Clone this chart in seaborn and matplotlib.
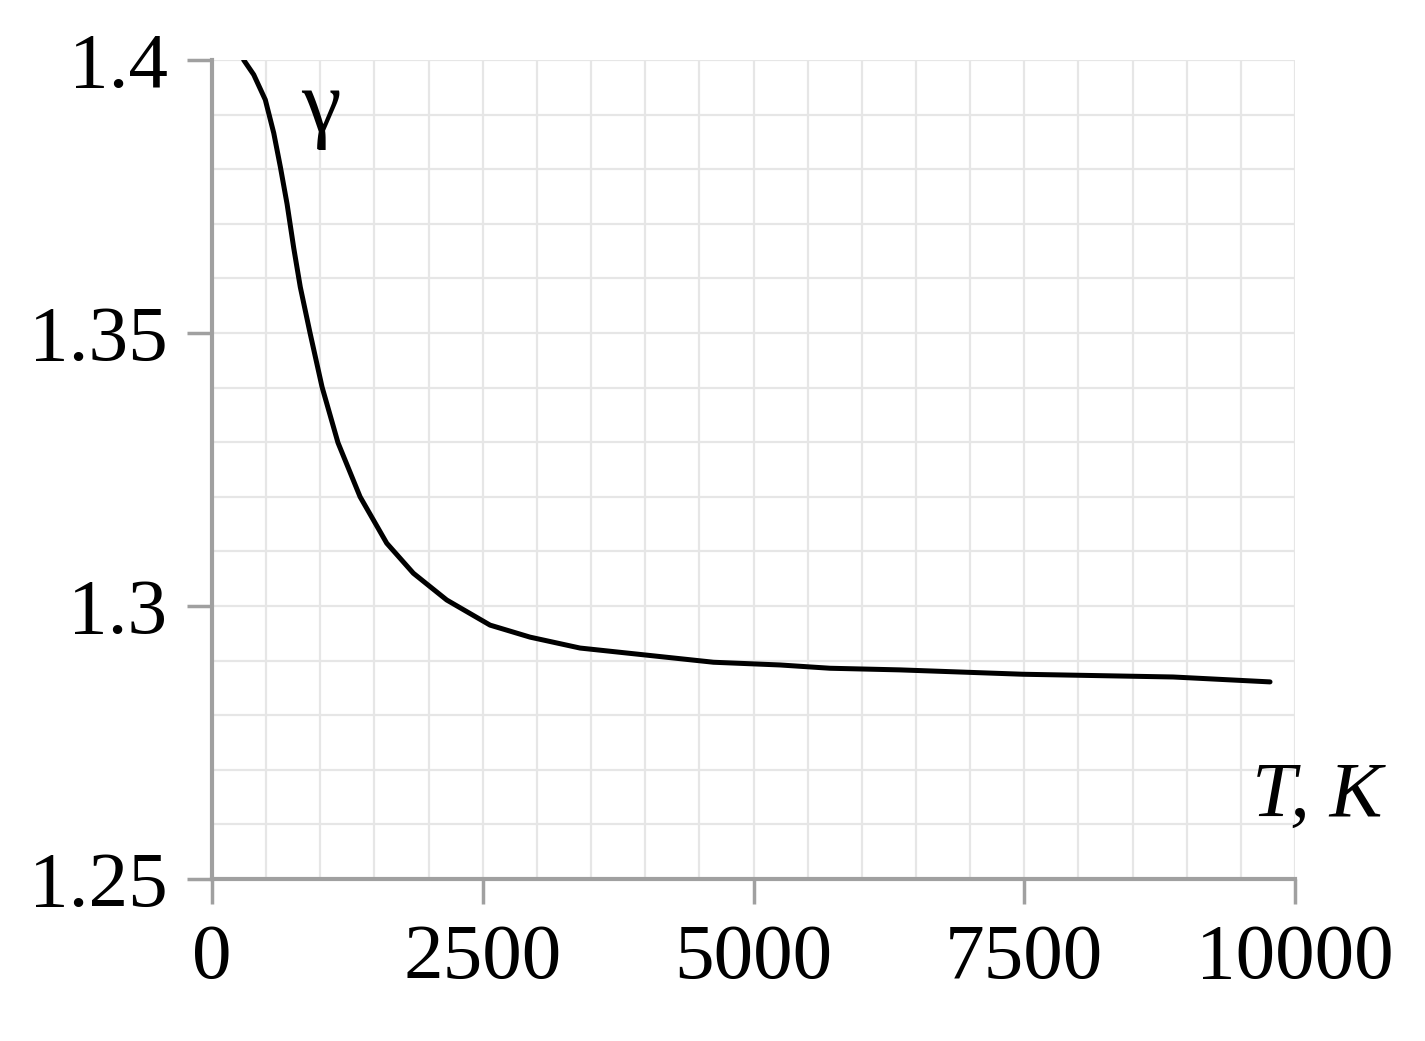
import numpy as np
import pandas as pd
import seaborn as sns
import matplotlib.pyplot as plt
from matplotlib.ticker import MultipleLocator

# temperature, K
temp = [292, 385, 492, 570, 631, 693, 754, 815, 905, 1016, 1163, 1367, 1613,
        1859, 2167, 2567, 2936, 3398, 4014, 4630, 5245, 5706, 6353, 7489,
        8874, 9769]
# adiabatic index
gamma = [1.4000, 1.3973, 1.3927, 1.3866, 1.3804, 1.3736, 1.3656, 1.3584,
         1.3500, 1.3401, 1.3299, 1.3200, 1.3115, 1.3060, 1.3011, 1.2965,
         1.2943, 1.2923, 1.2910, 1.2897, 1.2892, 1.2886, 1.2883, 1.2875,
         1.2870, 1.2861]

xticks = [0, 2500, 5000, 7500, 10000]
yticks = [1.25, 1.3, 1.35, 1.4]
ytick_labels = ["1.25", "1.3", "1.35", "1.4"]

df = pd.DataFrame({"T": temp, "gamma": gamma})

sns.set_style("white")
plt.rcParams["font.family"] = ["Liberation Serif", "DejaVu Serif"]

fig = plt.figure(figsize=(14.25, 10.41), dpi=100)
ax = fig.add_axes([0.1488, 0.1556, 0.9088 - 0.1488, 0.9424 - 0.1556])

sns.lineplot(data=df, x="T", y="gamma", color="black", linewidth=3.6, ax=ax)

ax.set_xlim(0, 10000)
ax.set_ylim(1.25, 1.4)
ax.xaxis.set_minor_locator(MultipleLocator(500))
ax.yaxis.set_minor_locator(MultipleLocator(0.01))
ax.grid(which="both", color="#e6e6e6", linewidth=1.6)
ax.set_axisbelow(True)

ax.set_xticks(xticks)
ax.set_xticklabels([str(t) for t in xticks])
ax.set_yticks(yticks)
ax.set_yticklabels(ytick_labels)
ax.tick_params(axis="both", which="major", labelsize=57, length=18, width=2.5,
               color="#a0a0a0", labelcolor="black", direction="out", pad=14,
               bottom=True, left=True)
ax.tick_params(axis="both", which="minor", length=0)

for s in ["top", "right"]:
    ax.spines[s].set_visible(False)
for s in ["left", "bottom"]:
    ax.spines[s].set_color("#a0a0a0")
    ax.spines[s].set_linewidth(3)

ax.set_xlabel("")
ax.set_ylabel("")

ax.text(1000, 1.391, "γ", fontsize=64, color="black", ha="center", va="center")
ax.text(10200, 1.2650, "T, K", fontsize=57, style="italic", color="black",
        ha="center", va="center", clip_on=False)

fig.savefig("out.png", dpi=100, facecolor="white")
